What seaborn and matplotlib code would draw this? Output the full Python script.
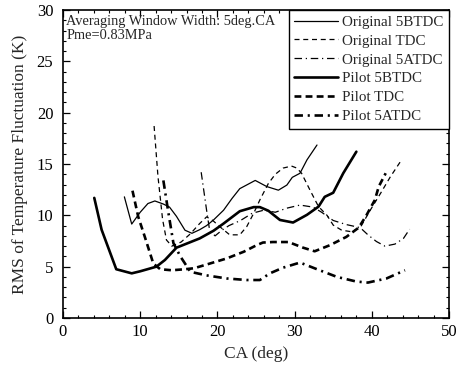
import matplotlib
matplotlib.use("Agg")
import matplotlib.pyplot as plt
from matplotlib.ticker import MultipleLocator
import seaborn as sns
import pandas as pd

# ---- data ----
orig_5btdc_x = [7.95, 8.9, 10.0, 11.0, 11.9, 13.0, 13.8, 14.7, 15.8, 16.7, 17.7, 18.6, 19.5, 20.8,
                21.9, 22.9, 24.9, 26.4, 27.9, 29.0, 29.7, 30.7, 31.6, 32.9]
orig_5btdc_y = [11.8, 9.15, 10.3, 11.15, 11.4, 11.1, 10.8, 9.9, 8.55, 8.25, 8.6, 9.0, 9.55, 10.5,
                11.65, 12.6, 13.4, 12.8, 12.45, 12.95, 13.7, 14.1, 15.4, 16.85]

orig_tdc_x = [11.8, 12.3, 12.9, 13.4, 14.1, 15.3, 16.5, 17.7, 18.6, 19.4, 20.3, 21.6, 22.9, 23.8,
              24.7, 25.5, 26.6, 27.5, 28.5, 29.6, 30.3, 30.9, 32.0, 33.1, 34.2, 35.0, 36.1, 37.4,
              38.5, 39.8, 41.1, 42.4, 43.9]
orig_tdc_y = [18.7, 13.8, 9.6, 7.6, 7.0, 7.4, 8.2, 9.2, 9.85, 9.5, 8.9, 8.1, 8.1, 8.9,
              10.2, 11.5, 13.1, 14.0, 14.6, 14.8, 14.6, 14.1, 12.45, 10.85, 10.0, 9.05, 8.55, 8.4,
              8.8, 10.5, 12.1, 13.75, 15.45]

orig_5atdc_x = [17.9, 18.6, 19.0, 19.7, 20.5, 21.5, 23.0, 24.5, 26.0, 27.5, 29.0, 30.7, 32.4, 33.5,
                35.0, 36.7, 38.5, 39.5, 40.6, 41.7, 43.0, 44.1, 44.9]
orig_5atdc_y = [14.2, 10.5, 8.5, 8.0, 8.5, 9.0, 9.5, 10.2, 10.5, 10.3, 10.7, 11.0, 10.8, 10.3,
                9.5, 9.1, 8.8, 8.1, 7.45, 7.0, 7.2, 7.75, 8.65]

pilot_5btdc_x = [4.05, 5.0, 6.9, 8.9, 10.0, 12.1, 13.2, 14.7, 16.2, 17.7, 19.5, 20.8, 22.9, 24.7,
                 25.5, 26.6, 28.1, 29.8, 31.6, 33.1, 33.9, 35.0, 36.3, 38.0]
pilot_5btdc_y = [11.7, 8.6, 4.75, 4.35, 4.55, 5.0, 5.65, 6.85, 7.3, 7.75, 8.5, 9.2, 10.4, 10.8,
                 10.8, 10.45, 9.55, 9.3, 10.05, 10.85, 11.8, 12.2, 14.1, 16.2]

pilot_tdc_x = [9.0, 9.75, 10.6, 11.7, 12.6, 14.1, 15.8, 17.0, 19.0, 21.2, 23.4, 25.1, 25.9, 27.2,
               29.2, 31.1, 32.6, 34.6, 36.7, 38.3, 39.3, 40.4, 40.9, 41.8]
pilot_tdc_y = [12.4, 9.85, 7.9, 5.3, 4.75, 4.65, 4.75, 4.85, 5.3, 5.8, 6.45, 7.1, 7.35, 7.4,
               7.4, 6.85, 6.5, 7.1, 7.9, 8.8, 10.0, 11.5, 12.8, 14.1]

pilot_5atdc_x = [13.0, 13.6, 14.3, 15.2, 16.5, 18.6, 21.2, 23.8, 25.5, 26.8, 28.5, 30.7, 32.9, 35.5,
                 38.0, 39.5, 41.9, 44.3]
pilot_5atdc_y = [13.4, 10.5, 7.3, 6.0, 4.5, 4.15, 3.85, 3.7, 3.7, 4.35, 4.9, 5.4, 4.75, 4.0,
                 3.55, 3.45, 3.85, 4.65]

labels = ["Original 5BTDC", "Original TDC", "Original 5ATDC",
          "Pilot 5BTDC", "Pilot TDC", "Pilot 5ATDC"]
x_ticks = [0, 10, 20, 30, 40, 50]
y_ticks = [0, 5, 10, 15, 20, 25, 30]
annotation = "Averaging Window Width: 5deg.CA\nPme=0.83MPa"
x_label = "CA (deg)"
y_label = "RMS of Temperature Fluctuation (K)"

series = [(orig_5btdc_x, orig_5btdc_y), (orig_tdc_x, orig_tdc_y), (orig_5atdc_x, orig_5atdc_y),
          (pilot_5btdc_x, pilot_5btdc_y), (pilot_tdc_x, pilot_tdc_y), (pilot_5atdc_x, pilot_5atdc_y)]

styles = [
    dict(lw=0.9, ls="-"),
    dict(lw=0.9, ls=(0, (4, 3))),
    dict(lw=0.9, ls=(0, (6, 3, 1, 3))),
    dict(lw=1.9, ls="-"),
    dict(lw=1.9, ls=(0, (2.6, 1.6))),
    dict(lw=1.9, ls=(0, (3.2, 1.8, 0.8, 1.8))),
]

sns.set_theme(style="white")
plt.rcParams["font.family"] = ["Liberation Serif", "DejaVu Serif"]

fig = plt.figure(figsize=(4.58, 3.70), dpi=100)
ax = fig.add_axes([63 / 458, 1 - 318 / 370, (449 - 63) / 458, (318 - 10) / 370])

for (xs, ys), lab, st in zip(series, labels, styles):
    df = pd.DataFrame({"x": xs, "y": ys})
    sns.lineplot(data=df, x="x", y="y", ax=ax, color="black", sort=False,
                 estimator=None, label=lab, linewidth=st["lw"], linestyle=st["ls"])

ax.set_xlim(0, 50)
ax.set_ylim(0, 30)
ax.set_xticks(x_ticks)
ax.set_yticks(y_ticks)
ax.xaxis.set_minor_locator(MultipleLocator(2))
ax.yaxis.set_minor_locator(MultipleLocator(1))
ax.tick_params(which="both", direction="in", top=True, right=True, bottom=True, left=True,
               colors="black", labelsize=12)
ax.tick_params(which="major", length=5, width=0.9)
ax.tick_params(which="minor", length=2.5, width=0.8)
ax.tick_params(axis="y", which="major", pad=7)
ax.tick_params(axis="x", which="major", pad=4)
for sp in ax.spines.values():
    sp.set_color("black")
    sp.set_linewidth(1.2)

ax.set_xlabel(x_label, fontsize=12.5, labelpad=5)
ax.set_ylabel(y_label, fontsize=12.5, labelpad=6)

ax.text(0.008, 0.985, annotation, transform=ax.transAxes, ha="left", va="top",
        fontsize=10.4, linespacing=1.1)

leg = ax.legend(loc="upper right", borderaxespad=0, fontsize=10.8, frameon=True,
                fancybox=False, handlelength=2.9, handletextpad=0.3, labelspacing=0.36,
                borderpad=0.35)
leg.get_frame().set_edgecolor("black")
leg.get_frame().set_linewidth(1.0)
leg.get_frame().set_alpha(1)

fig.savefig("out.png", dpi=100)
